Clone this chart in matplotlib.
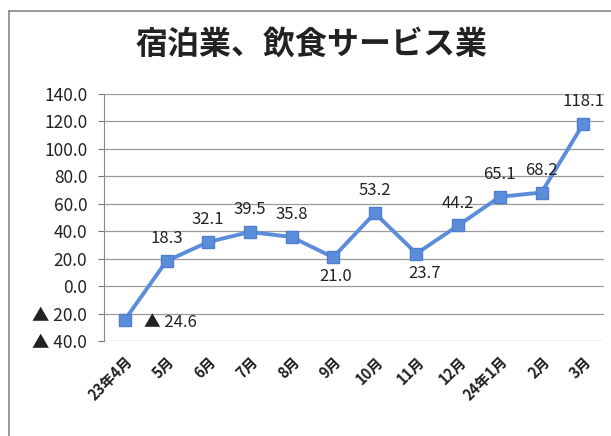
import matplotlib
matplotlib.use("Agg")
import matplotlib.pyplot as plt
from matplotlib.lines import Line2D

plt.rcParams['font.family'] = ['Noto Sans CJK JP', 'DejaVu Sans']

categories = ["23年4月", "5月", "6月", "7月", "8月", "9月", "10月", "11月", "12月", "24年1月", "2月", "3月"]
values = [-24.6, 18.3, 32.1, 39.5, 35.8, 21.0, 53.2, 23.7, 44.2, 65.1, 68.2, 118.1]
label_pos = ["right", "above", "above", "above", "above", "below", "above", "below", "above", "above", "above", "above"]
yticks = [-40, -20, 0, 20, 40, 60, 80, 100, 120, 140]
title = "宿泊業、飲食サービス業"

def fmt(v):
    return ("▲ %.1f" % abs(v)) if v < 0 else ("%.1f" % v)

fig = plt.figure(figsize=(6.11, 4.36), dpi=100)
ax = fig.add_axes([104/611, 1-341/436, 500/611, 247/436])

x = list(range(len(categories)))
ax.plot(x, values, color="#5B8DDB", lw=2.8, marker="s", ms=8,
        mfc="#5B8DDB", mec="#4F7FCC", zorder=3)

for i, (xi, v, p) in enumerate(zip(x, values, label_pos)):
    if p == "above":
        ax.annotate(fmt(v), (xi, v), xytext=(0, 10), textcoords="offset points",
                    ha="center", va="bottom", fontsize=12, color="#222222")
    elif p == "below":
        dx = 6 if i == 7 else 2
        ax.annotate(fmt(v), (xi, v), xytext=(dx, -8), textcoords="offset points",
                    ha="center", va="top", fontsize=12, color="#222222")
    else:
        ax.annotate(fmt(v), (xi, v), xytext=(14, -2), textcoords="offset points",
                    ha="left", va="center", fontsize=12, color="#222222")

ax.set_xlim(-0.5, len(categories) - 0.5)
ax.set_ylim(-40, 140)
ax.set_yticks(yticks)
ax.set_yticklabels([fmt(t) for t in yticks], fontsize=12.5, color="#222222")
ax.set_xticks(x)
ax.set_xticklabels(categories, rotation=45, ha="right", rotation_mode="anchor",
                   fontsize=10.5, fontweight="bold", color="#222222")
ax.tick_params(axis="x", length=0, pad=9)
ax.tick_params(axis="y", length=4, color="#777777", pad=8)
ax.grid(axis="y", color="#9a9a9a", lw=0.9)
for s in ["top", "right", "bottom"]:
    ax.spines[s].set_visible(False)
ax.spines["left"].set_color("#888888")
ax.set_axisbelow(True)

fig.text(312/611, 1-45/436, title, ha="center", va="center", fontsize=23,
         fontweight="bold", color="#222222")

fig.add_artist(Line2D([9/611, 9/611], [0, 1-11/436], color="#888888", lw=1.2))
fig.add_artist(Line2D([9/611, 1], [1-11/436, 1-11/436], color="#888888", lw=1.2))

fig.savefig("out.png", dpi=100)
